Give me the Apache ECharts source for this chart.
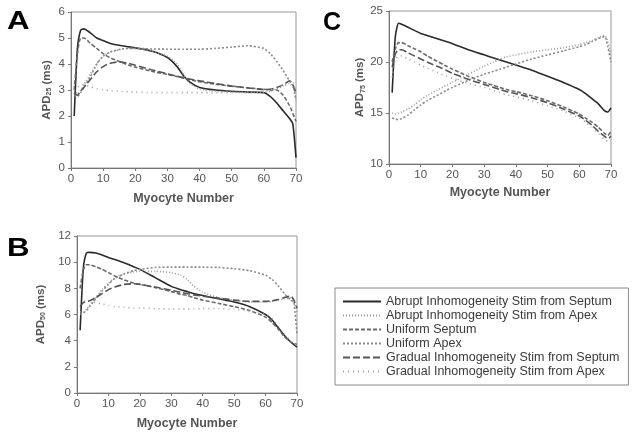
<!DOCTYPE html>
<html>
<head>
<meta charset="utf-8">
<script src="https://cdn.jsdelivr.net/npm/echarts@6/dist/echarts.min.js"></script>
<style>
html, body { margin: 0; padding: 0; background: #fff; }
#chart { width: 638px; height: 435px; }
</style>
</head>
<body>
<div id="chart"></div>
<script>
// myocyte positions sampled along the strip
var myocyte = [1, 2, 3, 4, 6, 8, 10, 12, 15, 18, 20, 25, 30, 33, 35, 37, 40, 45, 50, 55, 60, 62, 64, 66, 68, 69, 70];

var seriesNames = [
    'Abrupt Inhomogeneity Stim from Septum',
    'Abrupt Inhomogeneity Stim from Apex',
    'Uniform Septum',
    'Uniform Apex',
    'Gradual Inhomogeneity Stim from Septum',
    'Gradual Inhomogeneity Stim from Apex'
];

// A : APD25
var apd25_abruptSeptum  = [2.0, 4.6, 5.3, 5.35, 5.2, 5.0, 4.9, 4.8, 4.72, 4.66, 4.62, 4.5, 4.25, 3.9, 3.55, 3.3, 3.1, 3.0, 2.95, 2.92, 2.9, 2.75, 2.5, 2.2, 1.9, 1.7, 0.4];
var apd25_abruptApex    = [3.0, 2.85, 3.0, 3.2, 3.6, 4.0, 4.3, 4.45, 4.55, 4.6, 4.6, 4.5, 4.3, 4.0, 3.6, 3.25, 3.05, 2.95, 2.92, 2.9, 2.9, 2.95, 3.05, 3.15, 3.25, 3.1, 2.7];
var apd25_uniformSeptum = [3.0, 4.4, 5.0, 5.0, 4.8, 4.6, 4.4, 4.25, 4.1, 3.95, 3.88, 3.72, 3.6, 3.52, 3.46, 3.4, 3.32, 3.22, 3.15, 3.08, 3.03, 3.0, 3.0, 2.8, 2.4, 2.1, 1.8];
var apd25_uniformApex   = [2.8, 2.75, 2.9, 3.1, 3.5, 4.0, 4.3, 4.45, 4.56, 4.6, 4.6, 4.58, 4.57, 4.57, 4.57, 4.57, 4.57, 4.6, 4.65, 4.7, 4.6, 4.4, 4.1, 3.75, 3.35, 3.2, 2.6];
var apd25_gradualSeptum = [2.9, 2.8, 2.95, 3.1, 3.4, 3.7, 3.9, 4.02, 4.08, 4.02, 3.95, 3.78, 3.62, 3.53, 3.47, 3.42, 3.35, 3.25, 3.15, 3.08, 3.02, 3.03, 3.1, 3.2, 3.35, 3.2, 2.9];
var apd25_gradualApex   = [3.0, 3.1, 3.2, 3.2, 3.12, 3.05, 3.0, 2.98, 2.95, 2.93, 2.92, 2.9, 2.9, 2.9, 2.9, 2.9, 2.9, 2.9, 2.9, 2.92, 2.95, 3.0, 3.1, 3.2, 3.3, 3.35, 2.5];

// B : APD50
var apd50_abruptSeptum  = [4.8, 9.5, 10.7, 10.75, 10.7, 10.55, 10.35, 10.2, 9.95, 9.65, 9.45, 8.8, 8.15, 7.9, 7.75, 7.6, 7.45, 7.2, 6.95, 6.6, 6.0, 5.6, 5.0, 4.4, 3.9, 3.7, 3.5];
var apd50_abruptApex    = [6.2, 6.2, 6.4, 6.7, 7.3, 7.9, 8.4, 8.8, 9.1, 9.25, 9.3, 9.3, 9.2, 9.0, 8.7, 8.2, 7.7, 7.3, 7.1, 6.95, 6.95, 7.0, 7.1, 7.2, 7.25, 7.0, 6.2];
var apd50_uniformSeptum = [8.0, 9.4, 9.8, 9.8, 9.65, 9.45, 9.2, 8.95, 8.65, 8.4, 8.3, 8.05, 7.75, 7.55, 7.45, 7.3, 7.1, 6.85, 6.6, 6.3, 5.8, 5.4, 4.9, 4.3, 3.9, 3.8, 3.7];
var apd50_uniformApex   = [6.0, 6.1, 6.3, 6.6, 7.2, 7.8, 8.3, 8.75, 9.1, 9.35, 9.45, 9.6, 9.62, 9.62, 9.62, 9.62, 9.62, 9.6, 9.5, 9.35, 9.0, 8.7, 8.2, 7.6, 7.1, 6.9, 4.5];
var apd50_gradualSeptum = [6.6, 6.9, 7.0, 7.05, 7.3, 7.6, 7.9, 8.1, 8.3, 8.35, 8.3, 8.1, 7.85, 7.7, 7.6, 7.5, 7.4, 7.25, 7.1, 7.0, 7.0, 7.05, 7.15, 7.3, 7.4, 7.1, 6.5];
var apd50_gradualApex   = [6.8, 7.0, 7.05, 7.0, 6.9, 6.8, 6.7, 6.6, 6.55, 6.5, 6.5, 6.45, 6.42, 6.42, 6.42, 6.42, 6.45, 6.45, 6.4, 6.25, 6.0, 5.7, 5.1, 4.5, 4.0, 3.8, 3.6];

// C : APD75
var apd75_abruptSeptum  = [17.0, 22.5, 23.8, 23.7, 23.4, 23.1, 22.8, 22.6, 22.3, 22.0, 21.8, 21.2, 20.7, 20.4, 20.2, 20.0, 19.7, 19.2, 18.6, 18.0, 17.3, 16.9, 16.4, 15.9, 15.2, 15.1, 15.5];
var apd75_abruptApex    = [15.0, 14.9, 15.0, 15.1, 15.4, 15.8, 16.3, 16.7, 17.2, 17.7, 18.0, 18.8, 19.6, 20.0, 20.3, 20.5, 20.7, 21.0, 21.2, 21.4, 21.7, 21.9, 22.1, 22.4, 22.6, 22.0, 20.5];
var apd75_uniformSeptum = [20.0, 21.3, 21.9, 21.9, 21.6, 21.3, 21.0, 20.6, 20.1, 19.6, 19.3, 18.6, 18.0, 17.7, 17.5, 17.3, 17.1, 16.7, 16.2, 15.6, 14.9, 14.5, 14.1, 13.6, 13.0, 12.8, 13.2];
var apd75_uniformApex   = [14.5, 14.4, 14.35, 14.45, 14.8, 15.3, 15.8, 16.2, 16.7, 17.2, 17.5, 18.2, 18.8, 19.1, 19.3, 19.5, 19.8, 20.3, 20.7, 21.1, 21.5, 21.7, 22.0, 22.3, 22.5, 21.5, 20.0];
var apd75_gradualSeptum = [19.5, 20.8, 21.2, 21.2, 20.9, 20.6, 20.3, 20.0, 19.6, 19.2, 18.9, 18.3, 17.8, 17.5, 17.3, 17.1, 16.9, 16.5, 16.0, 15.4, 14.7, 14.3, 13.8, 13.2, 12.7, 12.5, 12.7];
var apd75_gradualApex   = [18.5, 20.2, 20.6, 20.6, 20.3, 20.0, 19.7, 19.4, 19.0, 18.6, 18.4, 17.9, 17.5, 17.2, 17.0, 16.8, 16.6, 16.2, 15.7, 15.2, 14.5, 14.1, 13.6, 13.0, 12.4, 12.2, 12.4];

var panels = [
    [apd25_abruptSeptum, apd25_abruptApex, apd25_uniformSeptum, apd25_uniformApex, apd25_gradualSeptum, apd25_gradualApex],
    [apd50_abruptSeptum, apd50_abruptApex, apd50_uniformSeptum, apd50_uniformApex, apd50_gradualSeptum, apd50_gradualApex],
    [apd75_abruptSeptum, apd75_abruptApex, apd75_uniformSeptum, apd75_uniformApex, apd75_gradualSeptum, apd75_gradualApex]
];

var lineStyles = [
    {color: '#2a2a2a', width: 1.6, type: 'solid'},
    {color: '#9a9a9a', width: 1.6, type: [1, 2]},
    {color: '#6a6a6a', width: 1.6, type: [4, 2]},
    {color: '#8a8a8a', width: 1.6, type: [2, 2]},
    {color: '#555555', width: 1.6, type: [7, 3]},
    {color: '#a0a0a0', width: 1.6, type: [1, 4]}
];

var FONT = 'Liberation Sans, Arial, sans-serif';

function makeX(idx, gap){
    return {
        type: 'value', gridIndex: idx, min: 0, max: 70, interval: 10,
        name: 'Myocyte Number', nameLocation: 'middle', nameGap: gap,
        nameTextStyle: {fontFamily: FONT, fontSize: 12.5, fontWeight: 'bold', color: '#555'},
        axisLine: {show: true, lineStyle: {color: '#777'}},
        axisTick: {show: true, length: 3, lineStyle: {color: '#777'}},
        axisLabel: {fontFamily: FONT, fontSize: 11.5, color: '#555', margin: 5},
        splitLine: {show: false}
    };
}
function makeY(idx, min, max, step, sub, gap){
    return {
        type: 'value', gridIndex: idx, min: min, max: max, interval: step,
        name: 'APD{s|' + sub + '} (ms)', nameLocation: 'middle', nameGap: gap,
        nameTextStyle: {fontFamily: FONT, fontSize: 11.5, fontWeight: 'bold', color: '#555',
            rich: {s: {fontFamily: FONT, fontSize: 7, fontWeight: 'bold', color: '#555', verticalAlign: 'bottom', padding: [6, 0, 0, 0]}}},
        axisLine: {show: true, lineStyle: {color: '#777'}},
        axisTick: {show: true, length: 3, lineStyle: {color: '#777'}},
        axisLabel: {fontFamily: FONT, fontSize: 11.5, color: '#555', margin: 6},
        splitLine: {show: false}
    };
}

var series = [];
panels.forEach(function(vals, p){
    vals.forEach(function(v, i){
        series.push({
            name: seriesNames[i],
            type: 'line',
            xAxisIndex: p, yAxisIndex: p,
            symbol: 'none',
            smooth: 0.2,
            lineStyle: lineStyles[i],
            itemStyle: {color: lineStyles[i].color},
            data: myocyte.map(function(m, k){ return [m, v[k]]; })
        });
    });
});

var myChart = echarts.init(document.getElementById('chart'));
var option = {
    backgroundColor: '#fff',
    animation: false,
    grid: [
        {left: 71, top: 12, width: 225, height: 156, show: true, borderColor: '#999', borderWidth: 1},
        {left: 77, top: 236, width: 220, height: 157, show: true, borderColor: '#999', borderWidth: 1},
        {left: 389, top: 11, width: 222, height: 153, show: true, borderColor: '#999', borderWidth: 1}
    ],
    xAxis: [makeX(0, 24), makeX(1, 24), makeX(2, 22)],
    yAxis: [makeY(0, 0, 6, 1, '25', 18), makeY(1, 0, 12, 2, '50', 30), makeY(2, 10, 25, 5, '75', 22)],
    legend: {
        orient: 'vertical', left: 335, top: 288,
        data: seriesNames,
        itemWidth: 38, itemHeight: 10, itemGap: 1,
        padding: [7, 9, 7, 7],
        borderColor: '#888', borderWidth: 1,
        itemStyle: {opacity: 0},
        textStyle: {fontFamily: FONT, fontSize: 12.5, color: '#3a3a3a', lineHeight: 13}
    },
    graphic: [
        {type: 'text', left: 7, top: 10, scaleX: 1.25, style: {text: 'A', fontFamily: FONT, fontSize: 25, fontWeight: 'bold', fill: '#000'}},
        {type: 'text', left: 7, top: 237, scaleX: 1.25, style: {text: 'B', fontFamily: FONT, fontSize: 25, fontWeight: 'bold', fill: '#000'}},
        {type: 'text', left: 323, top: 11, style: {text: 'C', fontFamily: FONT, fontSize: 25, fontWeight: 'bold', fill: '#000'}}
    ],
    series: series
};
myChart.setOption(option);
</script>
</body>
</html>
